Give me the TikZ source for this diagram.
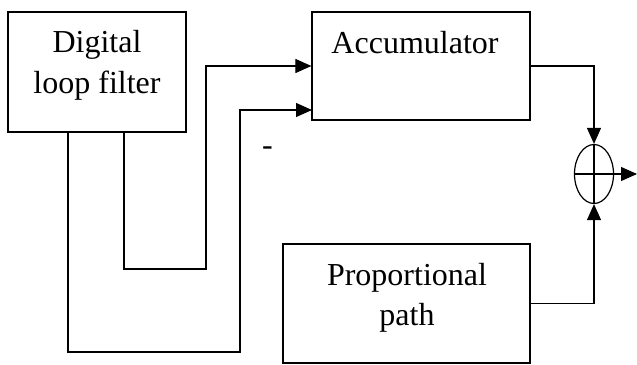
\documentclass[tikz,border=0pt]{standalone}
\usepackage{fontspec}
\setmainfont{Liberation Serif}
\usetikzlibrary{arrows.meta,shapes.geometric}
\begin{document}
\begin{tikzpicture}[x=1pt,y=-1pt,
  every path/.style={line width=1.1pt},
  blk/.style={draw,line width=1.2pt,inner sep=0pt},
  lbl/.style={anchor=base,inner sep=0pt,font=\fontsize{32}{38}\selectfont},
  wire/.style={line width=1.1pt},
  arr/.style={wire,-{Triangle[length=16pt,width=14pt]}}]
\useasboundingbox (0,0) rectangle (637,364);

% blocks
\node[blk,minimum width=178pt,minimum height=120pt] (dlf) at (97,72) {};
\node[blk,minimum width=218pt,minimum height=108pt] (acc) at (421,66) {};
\node[blk,minimum width=247pt,minimum height=119pt] (prop) at (406.5,303.5) {};
\node[draw,ellipse,line width=1.2pt,inner sep=0pt,minimum width=39pt,minimum height=59pt] (sum) at (594,174) {};

% block texts
\node[lbl] (dlfA) at (97,52) {Digital};
\node[lbl] (dlfB) at (97,93) {loop filter};
\node[lbl] (accA) at (415,53) {Accumulator};
\node[lbl] (propA) at (407,285) {Proportional};
\node[lbl] (propB) at (407,325) {path};
\node[lbl] (minus) at (267.5,155) {-};

% summing junction cross
\draw[wire] (sum.north) -- (sum.south);
\draw[wire] (sum.west) -- (sum.east);

% turning points of the wires
\coordinate (a1) at (124,132);
\coordinate (a2) at (124,269);
\coordinate (a3) at (206,269);
\coordinate (a4) at (206,66);
\coordinate (b1) at (68,132);
\coordinate (b2) at (68,352);
\coordinate (b3) at (240,352);
\coordinate (b4) at (240,110);
\coordinate (accIn2) at (312,110);
\coordinate (c1) at (594,66);
\coordinate (d1) at (594,303.5);
\coordinate (outEnd) at (637,174);

% loop filter to accumulator
\draw[arr] (a1) -- (a2) -- (a3) -- (a4) -- (acc.west);
\draw[arr] (b1) -- (b2) -- (b3) -- (b4) -- (accIn2);

% into and out of the summing junction
\draw[arr] (acc.east) -- (c1) -- (sum.north);
\draw[arr] (prop.east) -- (d1) -- (sum.south);
\draw[arr] (sum.east) -- (outEnd);
\end{tikzpicture}
\end{document}
